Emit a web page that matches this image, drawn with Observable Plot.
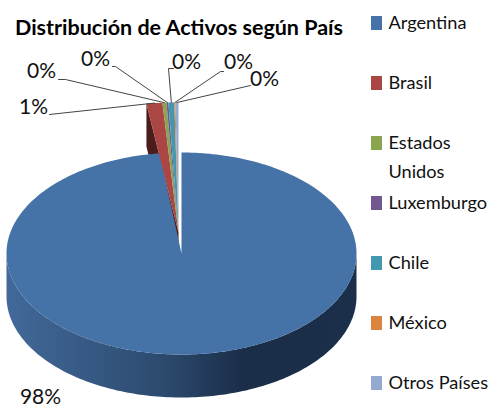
<!DOCTYPE html>
<html>
<head>
<meta charset="utf-8">
<style>html,body{margin:0;padding:0;background:#fff}svg{display:block}</style>
<script src="https://cdn.jsdelivr.net/npm/d3@7"></script>
<script src="https://cdn.jsdelivr.net/npm/@observablehq/plot@0.6"></script>
</head>
<body>
<script>
const chartTitle = "Distribución de Activos según País";
const countries = ["Argentina","Brasil","Estados Unidos","Luxemburgo","Chile","México","Otros Países"];
const shares = [98.0,1.0,0.25,0.12,0.37,0.07,0.19];
const shareLabels = ["98%","1%","0%","0%","0%","0%","0%"];
const palette = ["#4572A7","#AA4643","#89A54E","#71588F","#4198AF","#DB843D","#93A9CF"];
const legendLabels = ["Argentina","Brasil","Estados\nUnidos","Luxemburgo","Chile","México","Otros Países"];

// layout of the 3D projection (pixels)
const body = {cx:181, cy:253, rx:175, ry:101, depth:43};
const burst = {cx:178, cy:232, rx:256, ry:130, depth:43};
const FONT = "Lato, Carlito, 'Open Sans', sans-serif";
const labelSpots = [
  {x:40,y:396.5,leader:null},
  {x:33,y:107,leader:[[49,114]]},
  {x:41,y:71,leader:[[58,79],[65,79]]},
  {x:95,y:59,leader:[[112,66],[115,66]]},
  {x:186,y:62,leader:[[173,68],[168,68]]},
  {x:238,y:62,leader:[[223,71],[220,71]]},
  {x:264,y:79,leader:[[250,85]]}
];

const arcs = d3.pie().sort(null).startAngle(0).endAngle(2*Math.PI)(shares);
const project = (g,a,r=1,dz=0)=>({x:g.cx+g.rx*r*Math.sin(a), y:g.cy-g.ry*r*Math.cos(a)+dz});
const arcPts = (g,a0,a1,dz=0)=>{
  const n=Math.max(2,Math.ceil(Math.abs(a1-a0)/0.02));
  return d3.range(n+1).map(i=>project(g,a0+(a1-a0)*i/n,1,dz));
};

const tops = arcs.map((d,i)=>{
  const g = i===0?body:burst;
  return [{x:g.cx,y:g.cy},...arcPts(g,d.startAngle,d.endAngle)].map(p=>({...p,name:countries[i]}));
});

// blue rim: front half of the ellipse
const rim = [...arcPts(body,Math.PI/2,3*Math.PI/2),...arcPts(body,3*Math.PI/2,Math.PI/2,body.depth)];
// cut face of the pulled-out wedge
const wedgeStart = arcs[1].startAngle;
const corner = project(burst,wedgeStart);
const face = [corner,project(burst,wedgeStart,1,burst.depth),{x:burst.cx,y:burst.cy+burst.depth},{x:burst.cx,y:burst.cy}];

const leaders = labelSpots.flatMap((s,i)=>{
  if(!s.leader) return [];
  const mid=(arcs[i].startAngle+arcs[i].endAngle)/2;
  const end=project(burst,mid,1.0);
  return [...s.leader.map(([x,y])=>({x,y,k:i})),{x:end.x,y:end.y,k:i}];
});

const legend = countries.map((name,i)=>({name,label:legendLabels[i],top:16+60*i}));
const labels = shareLabels.map((t,i)=>({t,x:labelSpots[i].x,y:labelSpots[i].y}));

const svg = Plot.plot({
  width:490,height:408,margin:0,
  x:{domain:[0,490],range:[0,490],axis:null},
  y:{domain:[0,408],range:[0,408],axis:null},
  color:{domain:countries,range:palette},
  style:{background:"#fff",fontFamily:FONT},
  marks:[
    Plot.line(rim,{x:"x",y:"y",fill:"url(#rimShade)",stroke:"none",curve:"linear"}),
    Plot.line(face,{x:"x",y:"y",fill:"#4A1C1A",stroke:"none",curve:"linear"}),
    ...tops.map(pts=>Plot.line(pts,{x:"x",y:"y",z:"name",fill:"name",stroke:"none",curve:"linear"})),
    Plot.line(leaders,{x:"x",y:"y",z:"k",stroke:"#444",strokeWidth:1,curve:"linear"}),
    Plot.text(labels,{x:"x",y:"y",text:"t",fontSize:21,fill:"#111",textAnchor:"middle"}),
    Plot.text([chartTitle],{x:()=>178.5,y:()=>28,text:d=>d,fontSize:21.5,fontWeight:"bold",fill:"#000",textAnchor:"middle"}),
    Plot.rect(legend,{x1:()=>371,x2:()=>382,y1:"top",y2:d=>d.top+14,fill:"name"}),
    Plot.text(legend,{x:()=>388,y:d=>d.top-8,text:"label",fontSize:18.2,fill:"#111",textAnchor:"start",lineAnchor:"top",lineHeight:1.6})
  ]
});

const defs = d3.select(svg).insert("defs",":first-child");
const grad = defs.append("linearGradient").attr("id","rimShade").attr("gradientUnits","userSpaceOnUse")
  .attr("x1",body.cx-body.rx).attr("x2",body.cx+body.rx).attr("y1",0).attr("y2",0);
[[0,"#42699A"],[0.45,"#2C4A6E"],[0.68,"#1A2E48"],[1,"#1B2F4A"]].forEach(([o,c])=>grad.append("stop").attr("offset",o).attr("stop-color",c));
document.body.appendChild(svg);
</script>
</body>
</html>
